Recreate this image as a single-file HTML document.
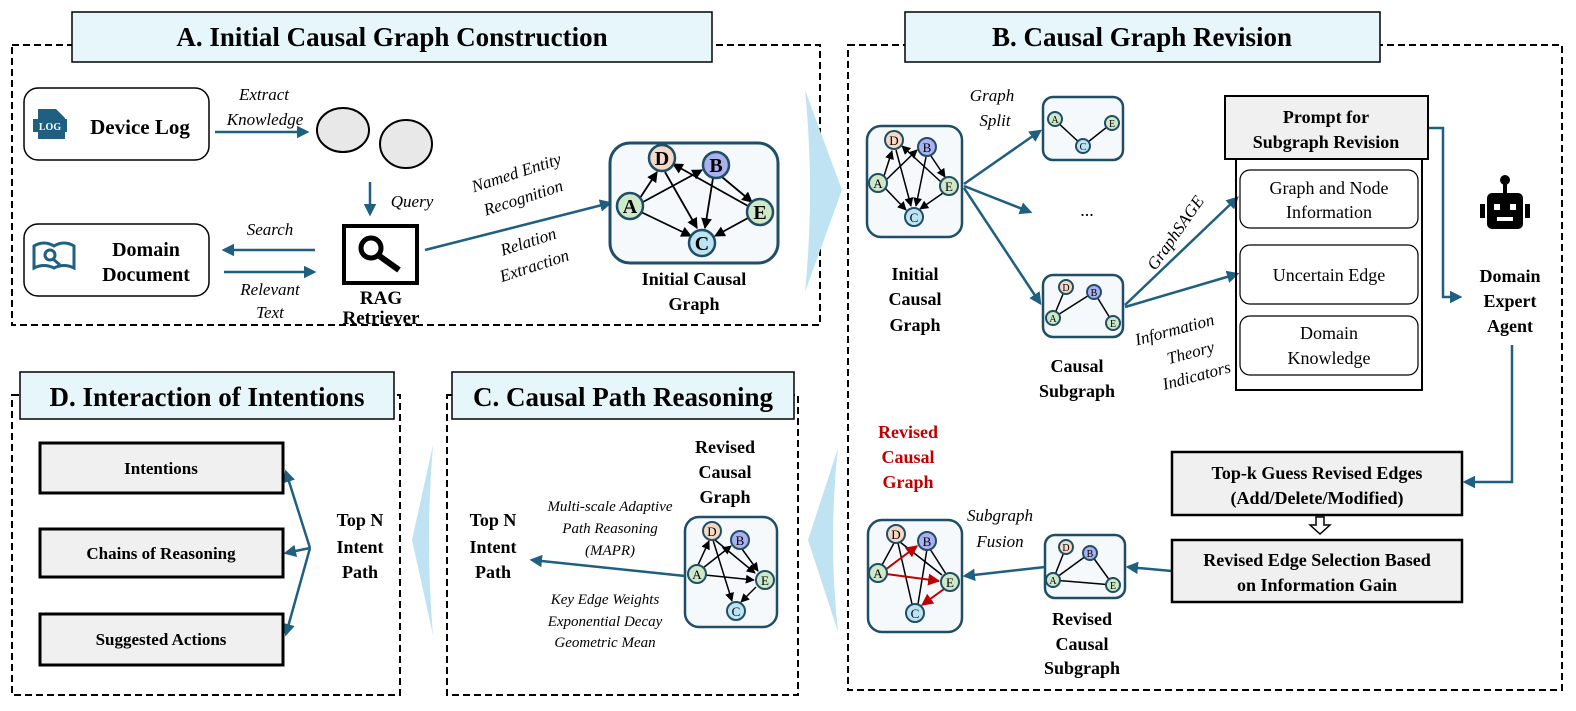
<!DOCTYPE html>
<html><head><meta charset="utf-8"><style>
body{margin:0;background:#fff}
svg{display:block}
text{font-family:"Liberation Serif",serif}
.b{font-weight:bold}
.i{font-style:italic}
</style></head><body>
<svg width="1576" height="711" viewBox="0 0 1576 711" xmlns="http://www.w3.org/2000/svg">
<defs>
<marker id="ar" viewBox="0 0 10 10" refX="8" refY="5" markerWidth="5" markerHeight="5" orient="auto"><path d="M0,0 L10,5 L0,10 z" fill="#1f5f80"/></marker>
<marker id="ak" viewBox="0 0 10 10" refX="9" refY="5" markerWidth="6" markerHeight="6" orient="auto"><path d="M0,0 L10,5 L0,10 z" fill="#000"/></marker>
<marker id="arr" viewBox="0 0 10 10" refX="9" refY="5" markerWidth="6" markerHeight="6" orient="auto"><path d="M0,0 L10,5 L0,10 z" fill="#c00000"/></marker>
</defs>
<g fill="none" stroke="#000" stroke-width="2" stroke-dasharray="7,4">
<rect x="12" y="45" width="808" height="280"/>
<rect x="848" y="45" width="714" height="645"/>
<rect x="12" y="395" width="388" height="300"/>
<rect x="447" y="395" width="351" height="300"/>
</g>
<g fill="#e6f6fb" stroke="#000" stroke-width="1.5">
<rect x="72" y="12" width="640" height="50"/>
<rect x="905" y="12" width="475" height="50"/>
<rect x="20" y="372" width="374" height="47"/>
<rect x="452" y="372" width="342" height="47"/>
</g>
<g class="b" font-size="27" text-anchor="middle">
<text x="392" y="46">A. Initial Causal Graph Construction</text>
<text x="1142" y="46">B. Causal Graph Revision</text>
<text x="207" y="406">D. Interaction of Intentions</text>
<text x="623" y="406">C. Causal Path Reasoning</text>
</g>
<g fill="#bfe3f3">
<path d="M805,90 L842,190 L805,292 Q815,190 805,90z"/>
<path d="M838,448 L808,540 L838,632 Q828,540 838,448z"/>
<path d="M433,445 L412,540 L433,635 Q425,540 433,445z"/>
</g>
<!-- Panel A -->
<rect x="24" y="88" width="185" height="72" rx="14" fill="#fff" stroke="#000" stroke-width="1.5"/>
<rect x="24" y="224" width="185" height="72" rx="14" fill="#fff" stroke="#000" stroke-width="1.5"/>
<g fill="#1f5f80"><path d="M38,109 h18 l9,9 v21 h-27z"/><rect x="33" y="119" width="34" height="13"/></g>
<text x="50" y="130" font-size="10" fill="#fff" text-anchor="middle" class="b" font-family="Liberation Sans">LOG</text>
<text x="140" y="134" class="b" font-size="21" text-anchor="middle">Device Log</text>
<g fill="none" stroke="#1f5f80" stroke-width="3"><path d="M34,246 q10,-6 20,0 q10,-6 20,0 v22 q-10,-5 -20,0 q-10,-5 -20,0z"/><circle cx="50" cy="255" r="5"/><path d="M53,259 l7,6"/></g>
<text x="146" y="256" class="b" font-size="20" text-anchor="middle">Domain</text>
<text x="146" y="281" class="b" font-size="20" text-anchor="middle">Document</text>
<g stroke="#1f5f80" stroke-width="2.5" fill="none" marker-end="url(#ar)">
<line x1="215" y1="132" x2="307" y2="132"/>
<line x1="370" y1="182" x2="370" y2="214"/>
<line x1="315" y1="250" x2="224" y2="250"/>
<line x1="224" y1="272" x2="314" y2="272"/>
<line x1="425" y1="250" x2="610" y2="203"/>
</g>
<g class="i" font-size="17" text-anchor="middle">
<text x="264" y="100">Extract</text><text x="265" y="125">Knowledge</text>
<text x="412" y="207">Query</text>
<text x="270" y="235">Search</text>
<text x="270" y="295">Relevant</text><text x="270" y="318">Text</text>
<text transform="translate(518,178) rotate(-18)">Named Entity</text>
<text transform="translate(525,203) rotate(-18)">Recognition</text>
<text transform="translate(530,247) rotate(-18)">Relation</text>
<text transform="translate(536,271) rotate(-18)">Extraction</text>
</g>
<ellipse cx="343" cy="130" rx="26" ry="22" fill="#e8e8e8" stroke="#000" stroke-width="2"/>
<ellipse cx="406" cy="144" rx="26" ry="24" fill="#e8e8e8" stroke="#000" stroke-width="2"/>
<rect x="344" y="226" width="73" height="57" fill="#fff" stroke="#000" stroke-width="4"/>
<circle cx="371" cy="248" r="10" fill="none" stroke="#000" stroke-width="5"/>
<line x1="378" y1="255" x2="399" y2="270" stroke="#000" stroke-width="6"/>
<text x="381" y="304" class="b" font-size="19" text-anchor="middle">RAG</text>
<text x="381" y="324" class="b" font-size="19" text-anchor="middle">Retriever</text>
<rect x="610" y="143" width="168" height="120" rx="20" fill="#f5f9fc" stroke="#1f4e66" stroke-width="3"/>
<g stroke="#000" stroke-width="1.8" marker-end="url(#ak)">
<line x1="640" y1="198" x2="657" y2="172"/>
<line x1="643" y1="202" x2="702" y2="170"/>
<line x1="641" y1="212" x2="691" y2="236"/>
<line x1="665" y1="172" x2="697" y2="228"/>
<line x1="748" y1="206" x2="673" y2="164"/>
<line x1="713" y1="178" x2="705" y2="228"/>
<line x1="722" y1="177" x2="752" y2="202"/>
<line x1="748" y1="218" x2="715" y2="236"/>
</g>
<g stroke="#1f4e66" stroke-width="2.5">
<circle cx="662" cy="158" r="13" fill="#f6d9c4"/><circle cx="716" cy="165" r="13" fill="#aab0f0"/>
<circle cx="630" cy="206" r="13" fill="#cfe8c8"/><circle cx="760" cy="212" r="13" fill="#cfe8c8"/>
<circle cx="702" cy="243" r="13" fill="#bde4f2"/>
</g>
<g font-size="20" class="b" text-anchor="middle">
<text x="662" y="165">D</text><text x="716" y="172">B</text><text x="630" y="213">A</text><text x="760" y="219">E</text><text x="702" y="250">C</text>
</g>
<text x="694" y="285" class="b" font-size="18" text-anchor="middle">Initial Causal</text>
<text x="694" y="310" class="b" font-size="18" text-anchor="middle">Graph</text>
<!-- Panel B -->
<g fill="#f5f9fc" stroke="#1f4e66" stroke-width="2.5">
<rect x="867" y="126" width="95" height="111" rx="14"/>
<rect x="1043" y="97" width="80" height="63" rx="10"/>
<rect x="1043" y="275" width="80" height="62" rx="10"/>
<rect x="1045" y="535" width="80" height="63" rx="10"/>
<rect x="868" y="520" width="94" height="112" rx="14"/>
<rect x="685" y="517" width="92" height="110" rx="14"/>
</g>
<g stroke="#000" stroke-width="1.5" marker-end="url(#ak)">
<line x1="884" y1="176" x2="892" y2="151"/><line x1="886" y1="180" x2="917" y2="150"/>
<line x1="885" y1="188" x2="906" y2="210"/><line x1="896" y1="150" x2="911" y2="206"/>
<line x1="941" y1="182" x2="902" y2="146"/><line x1="926" y1="157" x2="916" y2="206"/>
<line x1="931" y1="156" x2="945" y2="177"/><line x1="943" y1="193" x2="920" y2="209"/>
</g>
<g stroke="#1f4e66" stroke-width="2">
<circle cx="894" cy="140" r="9" fill="#f6d9c4"/><circle cx="927" cy="147" r="9" fill="#aab0f0"/>
<circle cx="878" cy="183" r="9" fill="#cfe8c8"/><circle cx="949" cy="186" r="9" fill="#cfe8c8"/><circle cx="914" cy="217" r="9" fill="#bde4f2"/>
</g>
<g font-size="13" text-anchor="middle"><text x="894" y="145">D</text><text x="927" y="152">B</text><text x="878" y="188">A</text><text x="949" y="191">E</text><text x="914" y="222">C</text></g>
<g stroke="#000" stroke-width="1.5"><line x1="1055" y1="120" x2="1083" y2="146"/><line x1="1112" y1="123" x2="1083" y2="146"/></g>
<g stroke="#1f4e66" stroke-width="2"><circle cx="1055" cy="119" r="7" fill="#cfe8c8"/><circle cx="1112" cy="123" r="7" fill="#cfe8c8"/><circle cx="1083" cy="146" r="7" fill="#bde4f2"/></g>
<g font-size="10" text-anchor="middle"><text x="1055" y="123">A</text><text x="1112" y="127">E</text><text x="1083" y="150">C</text></g>
<g stroke="#000" stroke-width="1.5"><line x1="1053" y1="318" x2="1066" y2="287"/><line x1="1053" y1="318" x2="1094" y2="292"/><line x1="1094" y1="292" x2="1113" y2="323"/></g>
<g stroke="#1f4e66" stroke-width="2"><circle cx="1066" cy="287" r="7" fill="#f6d9c4"/><circle cx="1094" cy="292" r="7" fill="#aab0f0"/><circle cx="1053" cy="318" r="7" fill="#cfe8c8"/><circle cx="1113" cy="323" r="7" fill="#cfe8c8"/></g>
<g font-size="10" text-anchor="middle"><text x="1066" y="291">D</text><text x="1094" y="296">B</text><text x="1053" y="322">A</text><text x="1113" y="327">E</text></g>
<text x="1087" y="216" font-size="18" text-anchor="middle">...</text>
<g stroke="#1f5f80" stroke-width="2.5" marker-end="url(#ar)">
<line x1="964" y1="184" x2="1040" y2="131"/><line x1="964" y1="186" x2="1030" y2="212"/><line x1="964" y1="188" x2="1040" y2="303"/>
<line x1="1125" y1="305" x2="1237" y2="198"/><line x1="1125" y1="307" x2="1237" y2="274"/>
<polyline points="1428,128 1443,128 1443,297 1460,297" fill="none"/>
<polyline points="1512,345 1512,482 1465,482" fill="none"/>
<line x1="1172" y1="571" x2="1128" y2="567"/>
<line x1="1045" y1="567" x2="965" y2="576"/>
<line x1="685" y1="576" x2="532" y2="560"/>
<line x1="310" y1="548" x2="286" y2="472"/><line x1="310" y1="548" x2="286" y2="553"/><line x1="310" y1="548" x2="286" y2="634"/>
</g>
<g class="b" font-size="18" text-anchor="middle">
<text x="915" y="280">Initial</text><text x="915" y="305">Causal</text><text x="915" y="331">Graph</text>
<text x="1077" y="372">Causal</text><text x="1077" y="397">Subgraph</text>
<text x="1510" y="282">Domain</text><text x="1510" y="307">Expert</text><text x="1510" y="332">Agent</text>
<text x="1082" y="625">Revised</text><text x="1082" y="650">Causal</text><text x="1082" y="674">Subgraph</text>
<g fill="#c00000"><text x="908" y="438">Revised</text><text x="908" y="463">Causal</text><text x="908" y="488">Graph</text></g>
<text x="725" y="453">Revised</text><text x="725" y="478">Causal</text><text x="725" y="503">Graph</text>
<text x="493" y="526">Top N</text><text x="493" y="553">Intent</text><text x="493" y="578">Path</text>
<text x="360" y="526">Top N</text><text x="360" y="553">Intent</text><text x="360" y="578">Path</text>
</g>
<g class="i" font-size="17" text-anchor="middle">
<text x="992" y="101">Graph</text><text x="995" y="126">Split</text>
<text transform="translate(1180,236) rotate(-55)">GraphSAGE</text>
<text transform="translate(1176,335) rotate(-15)">Information</text>
<text transform="translate(1192,358) rotate(-15)">Theory</text>
<text transform="translate(1198,381) rotate(-15)">Indicators</text>
<text x="1000" y="521">Subgraph</text><text x="1000" y="547">Fusion</text>
</g>
<rect x="1225" y="96" width="203" height="63" fill="#f0f0f0" stroke="#000" stroke-width="2"/>
<text x="1326" y="123" class="b" font-size="18" text-anchor="middle">Prompt for</text>
<text x="1326" y="148" class="b" font-size="18" text-anchor="middle">Subgraph Revision</text>
<rect x="1236" y="159" width="186" height="231" fill="none" stroke="#000" stroke-width="2"/>
<g fill="#fff" stroke="#000" stroke-width="1.2">
<rect x="1240" y="170" width="178" height="58" rx="10"/><rect x="1240" y="245" width="178" height="59" rx="10"/><rect x="1240" y="316" width="178" height="59" rx="10"/>
</g>
<g font-size="18" text-anchor="middle">
<text x="1329" y="194">Graph and Node</text><text x="1329" y="218">Information</text>
<text x="1329" y="281">Uncertain Edge</text>
<text x="1329" y="339">Domain</text><text x="1329" y="364">Knowledge</text>
</g>
<g fill="#000"><circle cx="1505" cy="180" r="5"/><rect x="1503" y="183" width="4" height="10"/>
<rect x="1487" y="193" width="36" height="36" rx="5"/><rect x="1480" y="204" width="5" height="14"/><rect x="1525" y="204" width="5" height="14"/></g>
<g fill="#fff"><rect x="1494" y="204" width="6" height="6"/><rect x="1510" y="204" width="6" height="6"/><rect x="1497" y="217" width="16" height="4"/></g>
<g fill="#f0f0f0" stroke="#000" stroke-width="2.5">
<rect x="1172" y="452" width="290" height="63"/><rect x="1172" y="540" width="290" height="62"/>
</g>
<g class="b" font-size="18" text-anchor="middle">
<text x="1317" y="479">Top-k Guess Revised Edges</text><text x="1317" y="504">(Add/Delete/Modified)</text>
<text x="1317" y="566">Revised Edge Selection Based</text><text x="1317" y="591">on Information Gain</text>
</g>
<path d="M1316,517 h8 v8 h6 l-10,9 l-10,-9 h6z" fill="#fff" stroke="#000" stroke-width="1.5"/>
<g stroke="#000" stroke-width="1.5"><line x1="1053" y1="580" x2="1066" y2="547"/><line x1="1053" y1="580" x2="1090" y2="553"/><line x1="1090" y1="553" x2="1113" y2="585"/><line x1="1053" y1="580" x2="1113" y2="585"/></g>
<g stroke="#1f4e66" stroke-width="2"><circle cx="1066" cy="547" r="7" fill="#f6d9c4"/><circle cx="1090" cy="553" r="7" fill="#aab0f0"/><circle cx="1053" cy="580" r="7" fill="#cfe8c8"/><circle cx="1113" cy="585" r="7" fill="#cfe8c8"/></g>
<g font-size="10" text-anchor="middle"><text x="1066" y="551">D</text><text x="1090" y="557">B</text><text x="1053" y="584">A</text><text x="1113" y="589">E</text></g>
<g stroke="#000" stroke-width="1.5">
<line x1="882" y1="565" x2="894" y2="543"/><line x1="898" y1="543" x2="912" y2="604"/><line x1="900" y1="542" x2="942" y2="575"/><line x1="930" y1="549" x2="946" y2="574"/><line x1="927" y1="549" x2="918" y2="604"/>
</g>
<g stroke="#c00000" stroke-width="2"><line x1="885" y1="570" x2="917" y2="546" marker-end="url(#arr)"/><line x1="886" y1="574" x2="939" y2="581" marker-end="url(#arr)"/><line x1="944" y1="589" x2="922" y2="605" marker-end="url(#arr)"/></g>
<g stroke="#1f4e66" stroke-width="2">
<circle cx="896" cy="534" r="9" fill="#f6d9c4"/><circle cx="927" cy="541" r="9" fill="#aab0f0"/><circle cx="878" cy="573" r="9" fill="#cfe8c8"/><circle cx="950" cy="582" r="9" fill="#cfe8c8"/><circle cx="915" cy="613" r="9" fill="#bde4f2"/>
</g>
<g font-size="13" text-anchor="middle"><text x="896" y="539">D</text><text x="927" y="546">B</text><text x="878" y="578">A</text><text x="950" y="587">E</text><text x="915" y="618">C</text></g>
<g stroke="#000" stroke-width="1.5" marker-end="url(#ak)">
<line x1="698" y1="565" x2="709" y2="541"/><line x1="713" y1="540" x2="732" y2="601"/><line x1="715" y1="540" x2="755" y2="573"/>
<line x1="703" y1="568" x2="731" y2="546"/><line x1="705" y1="575" x2="754" y2="580"/><line x1="742" y1="549" x2="758" y2="571"/><line x1="756" y1="587" x2="741" y2="602"/>
</g>
<g stroke="#1f4e66" stroke-width="2">
<circle cx="712" cy="531" r="9" fill="#f6d9c4"/><circle cx="740" cy="540" r="9" fill="#aab0f0"/><circle cx="697" cy="574" r="9" fill="#cfe8c8"/><circle cx="765" cy="580" r="9" fill="#cfe8c8"/><circle cx="736" cy="611" r="9" fill="#bde4f2"/>
</g>
<g font-size="13" text-anchor="middle"><text x="712" y="536">D</text><text x="740" y="545">B</text><text x="697" y="579">A</text><text x="765" y="585">E</text><text x="736" y="616">C</text></g>
<g class="i" font-size="15" text-anchor="middle">
<text x="610" y="511">Multi-scale Adaptive</text><text x="610" y="533">Path Reasoning</text><text x="610" y="555">(MAPR)</text>
<text x="605" y="604">Key Edge Weights</text><text x="605" y="626">Exponential Decay</text><text x="605" y="647">Geometric Mean</text>
</g>
<g fill="#f0f0f0" stroke="#000" stroke-width="3">
<rect x="40" y="443" width="243" height="50"/><rect x="40" y="529" width="243" height="48"/><rect x="40" y="614" width="243" height="51"/>
</g>
<g class="b" font-size="17" text-anchor="middle">
<text x="161" y="474">Intentions</text><text x="161" y="559">Chains of Reasoning</text><text x="161" y="645">Suggested Actions</text>
</g>
</svg>
</body></html>
